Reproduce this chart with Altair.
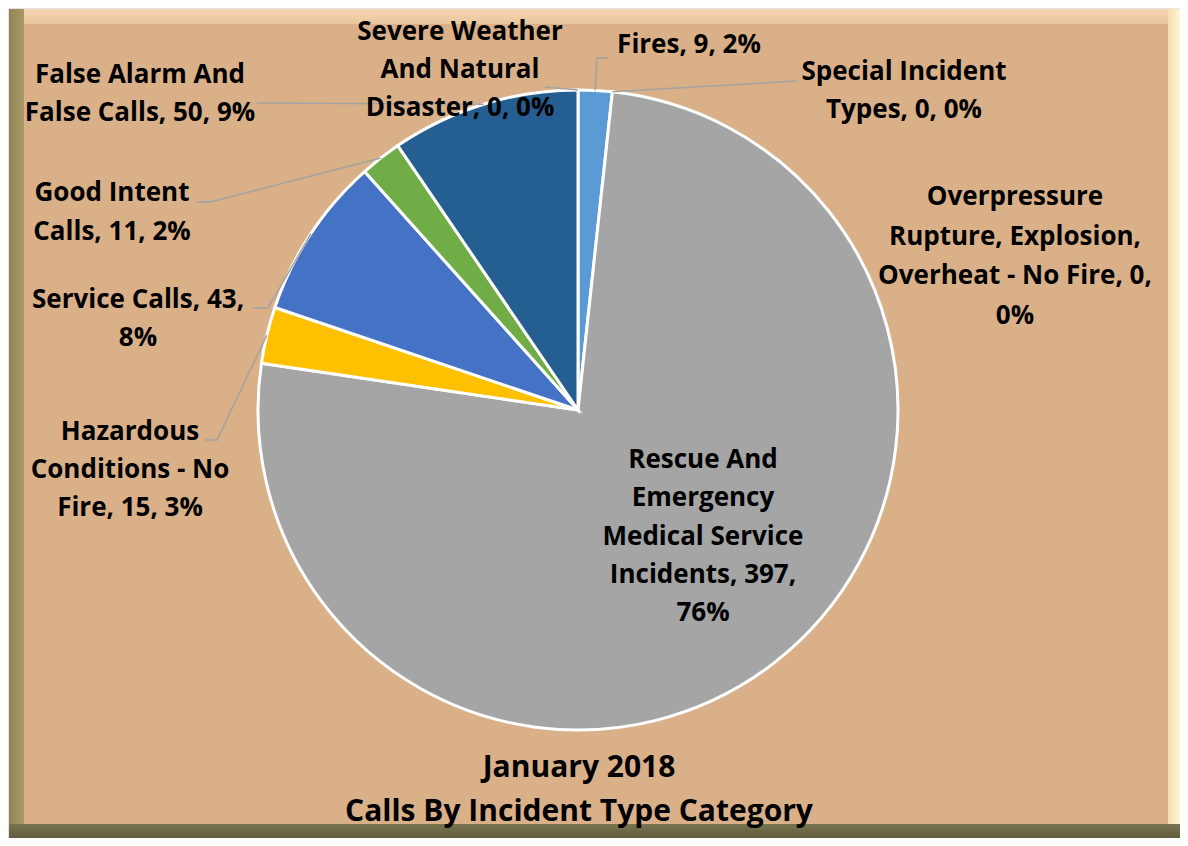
import math
import altair as alt
import pandas as pd

# ---------------- data ----------------
categories = [
    "Fires",
    "Special Incident Types",
    "Overpressure Rupture, Explosion, Overheat - No Fire",
    "Rescue And Emergency Medical Service Incidents",
    "Hazardous Conditions - No Fire",
    "Service Calls",
    "Good Intent Calls",
    "False Alarm And False Calls",
    "Severe Weather And Natural Disaster",
]
counts = [9, 0, 0, 397, 15, 43, 11, 50, 0]
percents = [2, 0, 0, 76, 3, 8, 2, 9, 0]
label_lines = [
    ["Fires, 9, 2%"],
    ["Special Incident", "Types, 0, 0%"],
    ["Overpressure", "Rupture, Explosion,", "Overheat - No Fire, 0,", "0%"],
    ["Rescue And", "Emergency", "Medical Service", "Incidents, 397,", "76%"],
    ["Hazardous", "Conditions - No", "Fire, 15, 3%"],
    ["Service Calls, 43,", "8%"],
    ["Good Intent", "Calls, 11, 2%"],
    ["False Alarm And", "False Calls, 50, 9%"],
    ["Severe Weather", "And Natural", "Disaster, 0, 0%"],
]
title_lines = ["January 2018", "Calls By Incident Type Category"]

# ---------------- styling / layout ----------------
slice_colors = ["#5B9BD5", "#ED7D31", "#264478", "#A5A5A5", "#FFC000",
                "#4472C4", "#70AD47", "#255E91", "#9E480E"]
W, H = 1172, 830
CX, CY, R = 570, 402, 320
FONT = "Open Sans"

# label anchors: (centre x, first-line y) in pixels
label_anchor = [(681, 37), (896, 64), (1007, 189), (695, 452), (122, 424),
                (130, 292), (104, 185), (132, 67), (452, 24)]
label_lh = [38, 38, 39.5, 38.3, 38, 38, 39, 37.5, 38]
# leader line start points (label side), None = no leader
leader_start = [
    [(600, 50), (589, 50)],
    [(789, 73)],
    None,
    None,
    [(197, 432), (209, 432)],
    [(245, 300), (260, 300)],
    [(189, 194), (202, 194)],
    [(249, 95)],
    [(537, 79)],
]

total = sum(counts)
cum = 0
mid_angles = []
for c in counts:
    a0 = cum / total * 360
    cum += c
    a1 = cum / total * 360
    mid_angles.append((a0 + a1) / 2)

# ---------------- pie ----------------
pie_df = pd.DataFrame({"cat": categories, "value": counts, "idx": list(range(len(categories)))})
pie = alt.Chart(pie_df).transform_filter("datum.value > 0").mark_arc(
    radius=R, stroke="white", strokeWidth=3
).encode(
    theta=alt.Theta("value:Q", stack=True),
    color=alt.Color("cat:N", scale=alt.Scale(domain=categories, range=slice_colors), legend=None),
    order=alt.Order("idx:Q"),
    x=alt.value(CX),
    y=alt.value(CY),
)

# ---------------- leader lines ----------------
rows = []
for i, pts in enumerate(leader_start):
    if pts is None:
        continue
    a = math.radians(mid_angles[i])
    end = (CX + R * math.sin(a), CY - R * math.cos(a))
    for j, (px, py) in enumerate(pts + [end]):
        rows.append({"id": i, "seq": j, "x": px, "y": py})
lead_df = pd.DataFrame(rows)
leaders = alt.Chart(lead_df).mark_line(color="#A3A3A3", strokeWidth=1.5).encode(
    x=alt.X("x:Q", scale=None, axis=None),
    y=alt.Y("y:Q", scale=None, axis=None),
    detail="id:N",
    order="seq:Q",
)

# ---------------- labels (one text mark per line) ----------------
lrows = []
for i, lines in enumerate(label_lines):
    x0, y0 = label_anchor[i]
    for j, t in enumerate(lines):
        lrows.append({"text": t, "x": x0, "y": y0 + j * label_lh[i]})
lab_df = pd.DataFrame(lrows)
labels = alt.Chart(lab_df).mark_text(
    font=FONT, fontWeight="bold", fontSize=26,
    align="center", baseline="middle", color="black"
).encode(
    x=alt.X("x:Q", scale=None, axis=None),
    y=alt.Y("y:Q", scale=None, axis=None),
    text="text:N",
)

title_df = pd.DataFrame({"text": title_lines, "y": [760, 804]})
title = alt.Chart(title_df).mark_text(
    font=FONT, fontWeight="bold", fontSize=30,
    align="center", baseline="middle", color="black"
).encode(
    x=alt.value(571),
    y=alt.Y("y:Q", scale=None, axis=None),
    text="text:N",
)

# ---------------- frame ----------------
def grad(c1, c2, horizontal=True):
    return alt.LinearGradient(
        gradient="linear",
        stops=[alt.GradientStop(color=c1, offset=0), alt.GradientStop(color=c2, offset=1)],
        x1=0, x2=1 if horizontal else 0, y1=0, y2=0 if horizontal else 1,
    )

one = pd.DataFrame({"k": [0]})

def rect(x, x2, y, y2, color, **kw):
    return alt.Chart(one).mark_rect(color=color, **kw).encode(
        x=alt.value(x), x2=alt.value(x2), y=alt.value(y), y2=alt.value(y2)
    )

frame = [
    rect(1, W, 1, H, "#D8B088", stroke="#C9C9C9", strokeWidth=1),
    rect(1, 16, 1, H, grad("#8F8455", "#A99A66")),
    rect(W - 12, W, 1, H, grad("#F3DDB0", "#FFF6D2")),
    rect(16, W - 12, 1, 16, grad("#F6D7B2", "#E9C59D", horizontal=False)),
    rect(1, W, H - 14, H, grad("#7A7550", "#5F5B3C", horizontal=False)),
    rect(16, W - 12, 16, H - 14, "#DAB089"),
]

chart = alt.layer(*frame, pie, leaders, labels, title).properties(
    width=W, height=H,
    autosize=alt.AutoSizeParams(type="none"),
    padding=0,
    background="white",
).configure_view(stroke=None)

chart.save("out.html", embed_options={"renderer": "svg", "actions": False})
